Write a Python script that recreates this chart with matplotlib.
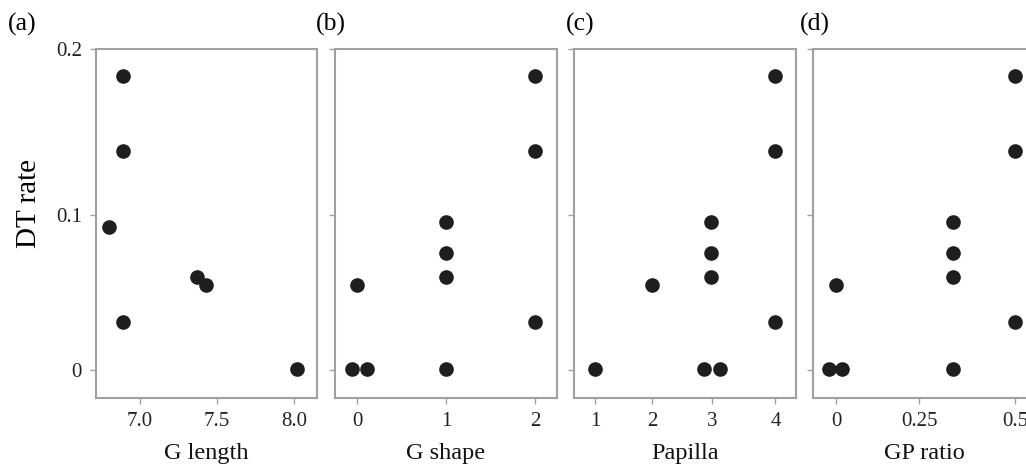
import matplotlib
matplotlib.use("Agg")
import matplotlib.pyplot as plt
import numpy as np

# DT rate shared by all panels
glen_x = [6.89, 6.89, 6.80, 7.37, 7.43, 6.89, 8.02]
glen_y = [0.184, 0.139, 0.0926, 0.0616, 0.0562, 0.0325, 0.001]

gshape_x = [0, -0.063, 0.106, 1, 1, 1, 1, 2, 2, 2]
gshape_y = [0.0562, 0.001, 0.001, 0.0958, 0.0763, 0.0616, 0.001, 0.184, 0.139, 0.0325]

pap_x = [1, 2, 2.98, 2.98, 2.98, 2.86, 3.12, 4, 4, 4]
pap_y = [0.001, 0.0562, 0.0958, 0.0763, 0.0616, 0.001, 0.001, 0.184, 0.139, 0.0325]

gp_x = [-0.029, 0.023, -0.003, 0.34, 0.34, 0.34, 0.34, 0.5, 0.5, 0.5]
gp_y = [0.001, 0.001, 0.0562, 0.0958, 0.0763, 0.0616, 0.001, 0.184, 0.139, 0.0325]

panels = ["(a)", "(b)", "(c)", "(d)"]
xlabels = ["G length", "G shape", "Papilla", "GP ratio"]
xticks = [[7.0, 7.5, 8.0], [0, 1, 2], [1, 2, 3, 4], [0, 0.25, 0.5]]
xticklabels = [["7.0", "7.5", "8.0"], ["0", "1", "2"], ["1", "2", "3", "4"], ["0", "0.25", "0.5"]]
yticks = [0, 0.1, 0.2]
yticklabels = ["0", "0.1", "0.2"]


def pw(p):
    return (lambda v: np.sign(v) * np.abs(v) ** p,
            lambda v: np.sign(v) * np.abs(v) ** (1.0 / p))


plt.rcParams['font.family'] = ['Liberation Serif', 'DejaVu Serif']

W, H = 1026, 469
fig = plt.figure(figsize=(W / 100, H / 100), dpi=100)

lefts = [95.7, 335, 574, 813]
widths = [221, 221.7, 222, 222]
top, bottom = 49, 398
xlims = [(6.712, 8.147), (-0.251, 2.244), (0.601, 4.32), (-0.079, 0.549)]
xpow = [None, None, 1.12, 1.11]
data = [(glen_x, glen_y), (gshape_x, gshape_y), (pap_x, pap_y), (gp_x, gp_y)]
letter_x = [8, 316, 566, 800]

grey = "#a0a0a0"
for i in range(4):
    ax = fig.add_axes([lefts[i] / W, (H - bottom) / H, widths[i] / W, (bottom - top) / H])
    ax.set_yscale('function', functions=pw(1.05))
    if xpow[i] is not None:
        ax.set_xscale('function', functions=pw(xpow[i]))
    x, y = data[i]
    ax.plot(x, y, 'o', color="#1e1e1e", markersize=9.5, linestyle='none', clip_on=False)
    ax.set_xlim(*xlims[i])
    ax.set_ylim(-0.0196, 0.2)
    ax.set_xticks(xticks[i])
    ax.set_xticklabels(xticklabels[i])
    ax.set_yticks(yticks)
    ax.xaxis.set_minor_locator(matplotlib.ticker.NullLocator())
    ax.yaxis.set_minor_locator(matplotlib.ticker.NullLocator())
    if i == 0:
        ax.set_yticklabels(yticklabels)
        ax.set_ylabel("DT rate", fontsize=21)
        ax.yaxis.set_label_coords(-0.243, 0.556)
    else:
        ax.set_yticklabels([])
    for s in ax.spines.values():
        s.set_color(grey)
        s.set_linewidth(1.5)
    ax.tick_params(colors=grey, labelcolor="#222222", length=4, width=1,
                   labelsize=15, pad=6)
    ax.set_xlabel(xlabels[i], fontsize=17.5, color="#111111", labelpad=9)
    fig.text(letter_x[i] / W, 1 - 24 / H, panels[i], fontsize=18.5, va='center', ha='left')

fig.savefig("out.png", dpi=100)
